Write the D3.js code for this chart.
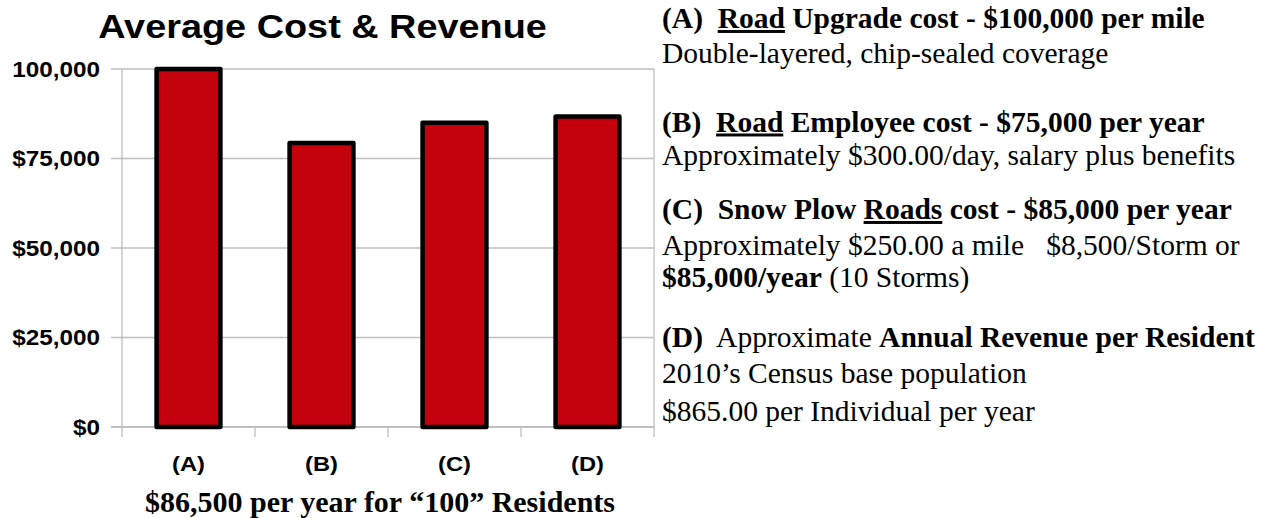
<!DOCTYPE html>
<html>
<head>
<meta charset="utf-8">
<script src="https://cdn.jsdelivr.net/npm/d3@7"></script>
<style>
  html, body { margin: 0; padding: 0; background: #fff; }
  svg { display: block; }
  text { white-space: pre; }
</style>
</head>
<body>
<div id="content"></div>
<script>
const categories = ["(A)", "(B)", "(C)", "(D)"];
const values = [100000, 79300, 85000, 86700];
const tickValues = [0, 25000, 50000, 75000, 100000];
const tickLabels = ["$0", "$25,000", "$50,000", "$75,000", "100,000"];
const chartTitle = "Average Cost & Revenue";
const xTitle = "$86,500 per year for \u201c100\u201d Residents";

// note lines: each line is a list of [text, bold, underline]
const noteLines = [
  [["(A)  ", 1, 0], ["Road", 1, 1], [" Upgrade cost - $100,000 per mile", 1, 0]],
  [["Double-layered, chip-sealed coverage", 0, 0]],
  [["(B)  ", 1, 0], ["Road", 1, 1], [" Employee cost - $75,000 per year", 1, 0]],
  [["Approximately $300.00/day, salary plus benefits", 0, 0]],
  [["(C)  Snow Plow ", 1, 0], ["Roads", 1, 1], [" cost - $85,000 per year", 1, 0]],
  [["Approximately $250.00 a mile   $8,500/Storm or", 0, 0]],
  [["$85,000/year", 1, 0], [" (10 Storms)", 0, 0]],
  [["(D)", 1, 0], ["  Approximate ", 0, 0], ["Annual Revenue per Resident", 1, 0]],
  [["2010\u2019s Census base population", 0, 0]],
  [["$865.00 per Individual per year", 0, 0]]
];
const noteBaselines = [28, 63, 131.5, 165, 219, 255, 287, 347, 383, 420.5];

const width = 1265;
const height = 518;
const sx = 1.13; // the chart part of the source is stretched sideways
const sans = "'Liberation Sans', Arial, sans-serif";
const serif = "'Liberation Serif', 'Times New Roman', serif";
const grid = "#bfbfbf";

const svg = d3.select("#content")
  .append("svg")
  .attr("width", width)
  .attr("height", height);

const x = d3.scaleBand()
  .domain(categories)
  .range([122, 654])
  .paddingInner(0.52)
  .paddingOuter(0.26);

const y = d3.scaleLinear()
  .domain([0, 100000])
  .range([427, 69]);

// gridlines + y ticks
svg.append("g")
  .selectAll("line")
  .data(tickValues)
  .join("line")
  .attr("x1", 111)
  .attr("x2", x.range()[1])
  .attr("y1", d => y(d))
  .attr("y2", d => y(d))
  .attr("stroke", grid)
  .attr("stroke-width", d => d === 0 ? 2 : 1.3);

// category boundaries (left axis, tick marks, right border)
const bounds = d3.range(categories.length + 1).map(i => x.range()[0] + i * x.step());
svg.append("g")
  .selectAll("line")
  .data(bounds)
  .join("line")
  .attr("x1", d => d)
  .attr("x2", d => d)
  .attr("y1", (d, i) => (i === 0 || i === categories.length) ? y(100000) : y(0))
  .attr("y2", y(0) + 10)
  .attr("stroke", grid)
  .attr("stroke-width", 1.3);

// bars
svg.append("g")
  .selectAll("rect")
  .data(values)
  .join("rect")
  .attr("x", (d, i) => x(categories[i]))
  .attr("y", d => y(d))
  .attr("width", x.bandwidth())
  .attr("height", d => y(0) - y(d))
  .attr("fill", "#c4000c")
  .attr("stroke", "#000")
  .attr("stroke-width", 4.5)
  .attr("stroke-linejoin", "round");

// y tick labels
svg.append("g")
  .selectAll("text")
  .data(tickValues)
  .join("text")
  .attr("transform", d => `translate(100,${y(d) + 7.5}) scale(${sx},1)`)
  .attr("text-anchor", "end")
  .style("font-family", sans)
  .style("font-weight", "bold")
  .style("font-size", "21.5px")
  .text((d, i) => tickLabels[i]);

// x labels
svg.append("g")
  .selectAll("text")
  .data(categories)
  .join("text")
  .attr("transform", d => `translate(${x(d) + x.bandwidth() / 2},471) scale(${sx},1)`)
  .attr("text-anchor", "middle")
  .style("font-family", sans)
  .style("font-weight", "bold")
  .style("font-size", "21px")
  .text(d => d);

// title
svg.append("text")
  .attr("transform", `translate(322.5,37.5) scale(${sx},1)`)
  .attr("text-anchor", "middle")
  .style("font-family", sans)
  .style("font-weight", "bold")
  .style("font-size", "33.5px")
  .text(chartTitle);

// x title
svg.append("text")
  .attr("x", 380)
  .attr("y", 511.5)
  .attr("text-anchor", "middle")
  .style("font-family", serif)
  .style("font-weight", "bold")
  .style("font-size", "30px")
  .text(xTitle);

// notes on the right
const notes = svg.append("g");
noteLines.forEach((parts, i) => {
  const t = notes.append("text")
    .attr("x", 662)
    .attr("y", noteBaselines[i])
    .style("font-family", serif)
    .style("font-size", "29.5px");
  parts.forEach(p => {
    t.append("tspan")
      .style("font-weight", p[1] ? "bold" : "normal")
      .style("text-decoration", p[2] ? "underline" : "none")
      .text(p[0]);
  });
});
</script>
</body>
</html>
